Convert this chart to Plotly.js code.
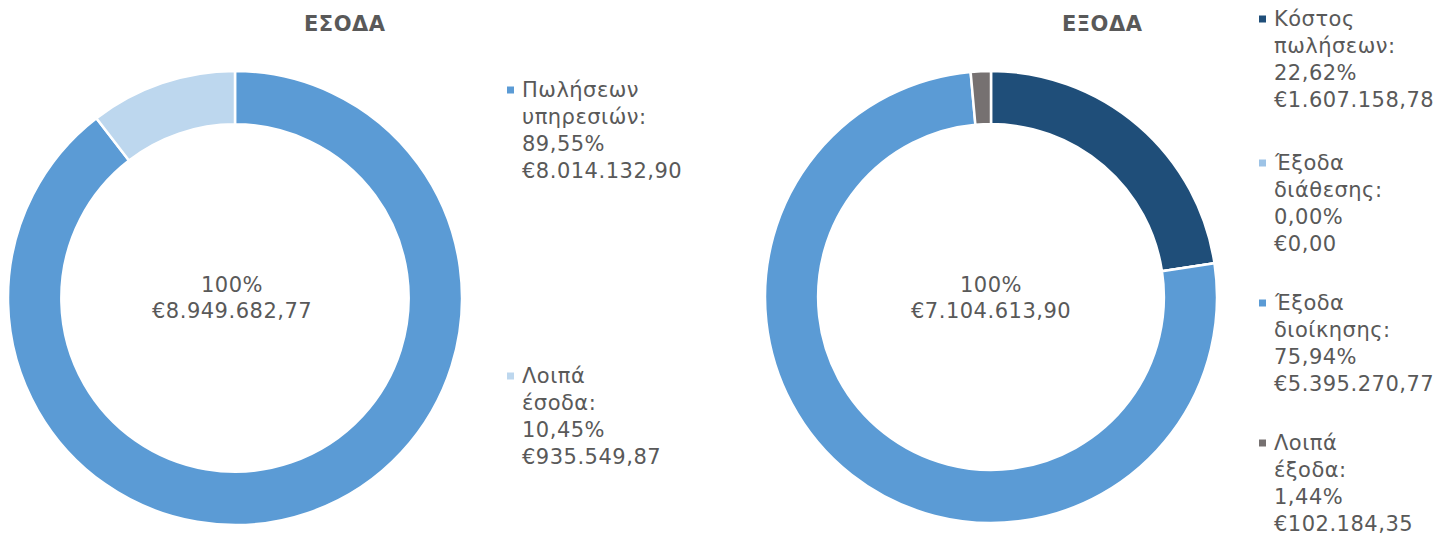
<!DOCTYPE html>
<html>
<head>
<meta charset="utf-8">
<script src="https://cdn.plot.ly/plotly-3.0.1.min.js"></script>
<style>
html,body{margin:0;padding:0;background:#fff;}
#chart{width:1449px;height:537px;}
.annotation-text{letter-spacing:0.5px;}
</style>
</head>
<body>
<div id="chart"></div>
<script>
// ---- data ----
const incomeTitle = "ΕΣΟΔΑ";
const incomeLabels = [["Πωλήσεων", "υπηρεσιών:"], ["Λοιπά", "έσοδα:"]];
const incomeValues = [8014132.90, 935549.87];
const incomeColors = ["#5B9BD5", "#BDD7EE"];

const expenseTitle = "ΕΞΟΔΑ";
const expenseLabels = [["Κόστος", "πωλήσεων:"], ["Έξοδα", "διάθεσης:"], ["Έξοδα", "διοίκησης:"], ["Λοιπά", "έξοδα:"]];
const expenseValues = [1607158.78, 0.00, 5395270.77, 102184.35];
const expenseColors = ["#1F4E79", "#9DC3E6", "#5B9BD5", "#767171"];

// ---- helpers ----
const W = 1449, H = 537;
const px = x => x / W;
const py = y => 1 - y / H;
const FONT = "DejaVu Sans, Verdana, sans-serif";
const TXT = "#595959";
const FS = 21;
const LINE = 27;

function fmtNum(v) {
  const s = v.toFixed(2);
  let [i, d] = s.split(".");
  i = i.replace(/\B(?=(\d{3})+(?!\d))/g, ".");
  return i + "," + d;
}
function fmtPct(p) { return p.toFixed(2).replace(".", ",") + "%"; }

const annotations = [];
const shapes = [];

function addText(text, x, y, anchor, bold, size) {
  annotations.push({
    text: bold ? "<b>" + text + "</b>" : text,
    x: px(x), y: py(y), xref: "paper", yref: "paper",
    xanchor: anchor, yanchor: "middle", showarrow: false, borderpad: 0,
    font: {family: FONT, size: size || FS, color: TXT}
  });
}

function addLegend(labels, values, colors, x0, ys) {
  const total = values.reduce((a, b) => a + b, 0);
  labels.forEach((lab, i) => {
    const lines = [lab[0], lab[1], fmtPct(values[i] / total * 100), "€" + fmtNum(values[i])];
    shapes.push({type: "rect", xref: "paper", yref: "paper",
      x0: px(x0 - 16), x1: px(x0 - 9), y0: py(ys[i] + 3.5), y1: py(ys[i] - 3.5),
      fillcolor: colors[i], line: {width: 0}});
    lines.forEach((ln, k) => addText(ln, x0 - 2, ys[i] + k * LINE, "left"));
  });
}

function addCenter(values, cx, cy) {
  const total = values.reduce((a, b) => a + b, 0);
  addText("100%", cx, cy - 13, "center");
  addText("€" + fmtNum(total), cx, cy + 13, "center");
}

// titles
addText(incomeTitle, 345, 24, "center", true, 21);
addText(expenseTitle, 1102, 24, "center", true, 21);

// center texts
addCenter(incomeValues, 232, 298);
addCenter(expenseValues, 991, 298);

// legends
addLegend(incomeLabels, incomeValues, incomeColors, 523, [90, 376]);
addLegend(expenseLabels, expenseValues, expenseColors, 1275, [19, 163, 303, 443]);

const pieCommon = {
  type: "pie", hole: 0.765, sort: false, direction: "clockwise", rotation: 0,
  textinfo: "none", hoverinfo: "label+value+percent", showlegend: false
};

const traces = [
  Object.assign({}, pieCommon, {
    labels: incomeLabels.map(l => l.join(" ")), values: incomeValues,
    marker: {colors: incomeColors, line: {color: "#ffffff", width: 2.5}},
    domain: {x: [px(8), px(462)], y: [py(525), py(71)]}
  }),
  Object.assign({}, pieCommon, {
    labels: expenseLabels.map(l => l.join(" ")), values: expenseValues,
    marker: {colors: expenseColors, line: {color: "#ffffff", width: 2.5}},
    domain: {x: [px(765), px(1217)], y: [py(523), py(71)]}
  })
];

const layout = {
  width: W, height: H,
  margin: {l: 0, r: 0, t: 0, b: 0},
  paper_bgcolor: "#ffffff", plot_bgcolor: "#ffffff",
  annotations: annotations, shapes: shapes,
  font: {family: FONT, color: TXT}
};

Plotly.newPlot("chart", traces, layout, {displayModeBar: false, staticPlot: true});
</script>
</body>
</html>
